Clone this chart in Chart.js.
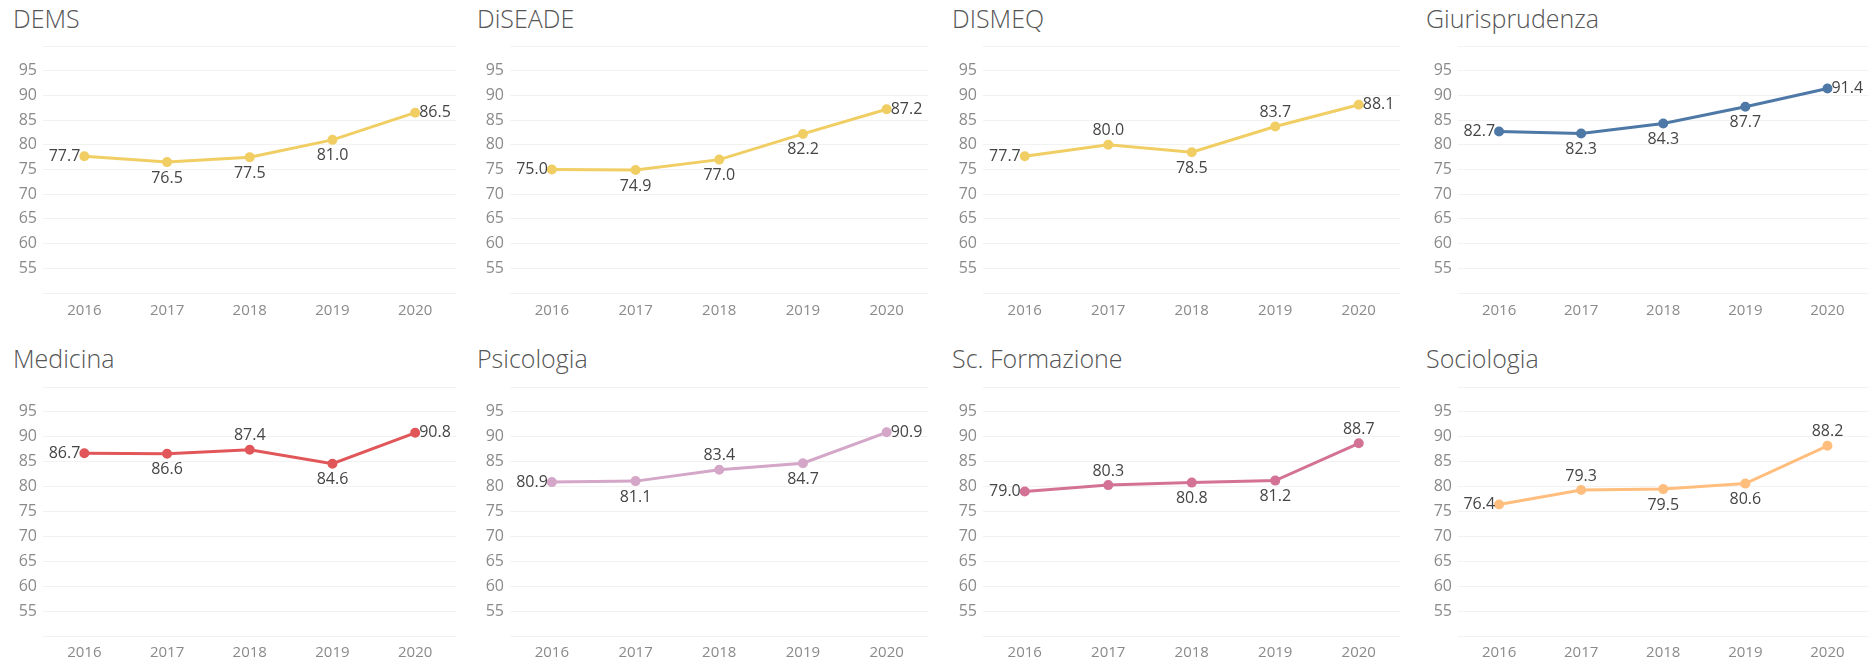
<!DOCTYPE html>
<html>
<head>
<meta charset="utf-8">
<script src="https://cdn.jsdelivr.net/npm/chart.js@4"></script>
<style>
  html, body { margin:0; padding:0; background:#fff; }
  body { width:1876px; height:665px; position:relative; overflow:hidden; font-family:"Open Sans", sans-serif; }
  .title { position:absolute; font-family:"Open Sans", sans-serif; font-weight:300; font-size:25px; color:#555; line-height:1; white-space:nowrap; }
  canvas { position:absolute; }
</style>
</head>
<body>
<script>
// ---- data ----
const years = ['2016', '2017', '2018', '2019', '2020'];
const yTicks = [55, 60, 65, 70, 75, 80, 85, 90, 95];
const names = ['DEMS', 'DiSEADE', 'DISMEQ', 'Giurisprudenza', 'Medicina', 'Psicologia', 'Sc. Formazione', 'Sociologia'];
const dems = [77.7, 76.5, 77.5, 81.0, 86.5];
const diseade = [75.0, 74.9, 77.0, 82.2, 87.2];
const dismeq = [77.7, 80.0, 78.5, 83.7, 88.1];
const giurisprudenza = [82.7, 82.3, 84.3, 87.7, 91.4];
const medicina = [86.7, 86.6, 87.4, 84.6, 90.8];
const psicologia = [80.9, 81.1, 83.4, 84.7, 90.9];
const scFormazione = [79.0, 80.3, 80.8, 81.2, 88.7];
const sociologia = [76.4, 79.3, 79.5, 80.6, 88.2];
const seriesValues = [dems, diseade, dismeq, giurisprudenza, medicina, psicologia, scFormazione, sociologia];

// ---- styles ----
const colors = ['#F1CE63', '#F1CE63', '#F1CE63', '#4E79A7', '#E15759', '#D4A6C8', '#D37295', '#FFBE7D'];
const labelPos = [
  ['left', 'below', 'below', 'below', 'right'],
  ['left', 'below', 'below', 'below', 'right'],
  ['left', 'above', 'below', 'above', 'right'],
  ['left', 'below', 'below', 'below', 'right'],
  ['left', 'below', 'above', 'below', 'right'],
  ['left', 'below', 'above', 'below', 'right'],
  ['left', 'above', 'below', 'below', 'above'],
  ['left', 'above', 'below', 'below', 'above']
];
const plotLeft = [43, 510, 983, 1458];
const plotRight = [463, 935, 1407, 1875];
const titleX = [13, 477, 952, 1426];
const rows = [
  { top: 0, height: 335, padTop: 46, xAxisH: 42, tickPad: 9, titleY: 6 },
  { top: 335, height: 330, padTop: 52, xAxisH: 29, tickPad: 8, titleY: 346 }
];
const yAxisW = 43;

const labelPlugin = {
  id: 'pointLabels',
  afterDatasetsDraw(chart, args, opts) {
    const ctx = chart.ctx;
    const meta = chart.getDatasetMeta(0);
    const ds = chart.data.datasets[0];
    ctx.save();
    ctx.font = '16px "Open Sans", sans-serif';
    ctx.fillStyle = '#454545';
    meta.data.forEach((pt, i) => {
      const txt = ds.data[i].toFixed(1);
      const pos = opts.positions[i];
      let x = pt.x, y = pt.y;
      if (pos === 'left') { ctx.textAlign = 'right'; ctx.textBaseline = 'middle'; x -= 4; }
      else if (pos === 'right') { ctx.textAlign = 'left'; ctx.textBaseline = 'middle'; x += 4; }
      else if (pos === 'above') { ctx.textAlign = 'center'; ctx.textBaseline = 'bottom'; y -= 6; }
      else { ctx.textAlign = 'center'; ctx.textBaseline = 'top'; y += 8; }
      ctx.fillText(txt, x, y);
    });
    ctx.restore();
  }
};

names.forEach((name, k) => {
  const col = k % 4, row = Math.floor(k / 4);
  const r = rows[row];
  const t = document.createElement('div');
  t.className = 'title';
  t.textContent = name;
  t.style.left = titleX[col] + 'px';
  t.style.top = r.titleY + 'px';
  document.body.appendChild(t);

  const cv = document.createElement('canvas');
  const left = plotLeft[col] - yAxisW;
  const w = plotRight[col] - left;
  cv.width = w; cv.height = r.height;
  cv.style.left = left + 'px'; cv.style.top = r.top + 'px';
  cv.style.width = w + 'px'; cv.style.height = r.height + 'px';
  document.body.appendChild(cv);

  new Chart(cv, {
    type: 'line',
    data: {
      labels: years,
      datasets: [{
        data: seriesValues[k],
        borderColor: colors[k],
        backgroundColor: colors[k],
        borderWidth: 3,
        pointRadius: 3.5,
        pointHoverRadius: 3.5,
        tension: 0
      }]
    },
    options: {
      responsive: false,
      animation: false,
      events: [],
      layout: { padding: { top: r.padTop, left: 0, right: 0, bottom: 0 } },
      plugins: {
        legend: { display: false },
        tooltip: { enabled: false },
        title: { display: false },
        pointLabels: { positions: labelPos[k] }
      },
      scales: {
        x: {
          type: 'category',
          offset: true,
          grid: { display: false, drawTicks: false },
          border: { display: false },
          ticks: { color: '#8a8a8a', font: { family: 'Open Sans', size: 15 }, padding: r.tickPad, maxRotation: 0 },
          afterFit: s => { s.height = r.xAxisH; }
        },
        y: {
          min: 50, max: 100,
          afterBuildTicks: s => { s.ticks = [50].concat(yTicks, [100]).map(v => ({ value: v })); },
          grid: { color: '#f2f2f2', lineWidth: 1, drawTicks: false },
          border: { display: false },
          ticks: {
            color: '#8a8a8a', font: { family: 'Open Sans', size: 16 }, padding: 6,
            callback: v => (yTicks.includes(v) ? String(v) : '')
          },
          afterFit: s => { s.width = yAxisW; }
        }
      }
    },
    plugins: [labelPlugin]
  });
});
</script>
</body>
</html>
